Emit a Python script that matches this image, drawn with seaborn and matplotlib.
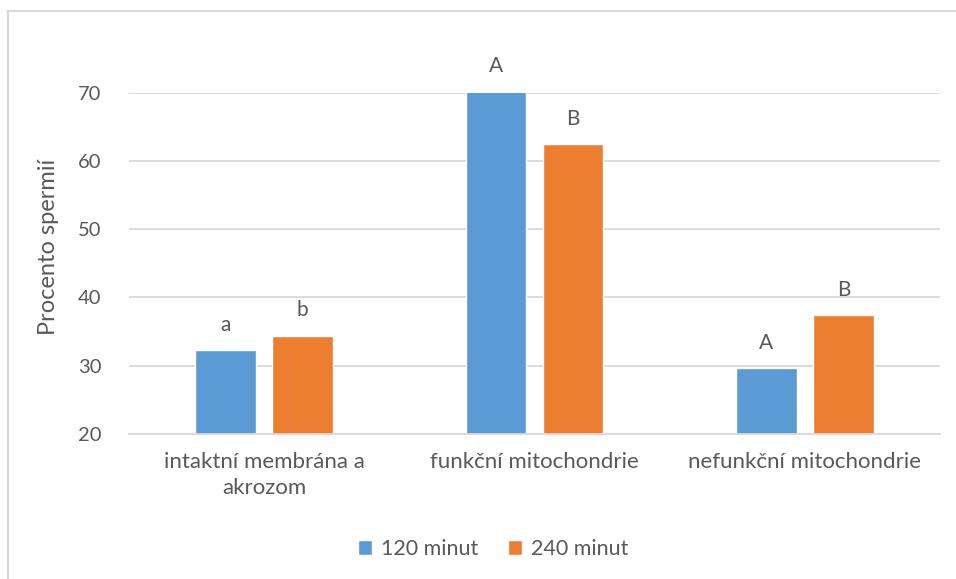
import matplotlib
matplotlib.use("Agg")
import matplotlib.pyplot as plt
import seaborn as sns
import pandas as pd
from matplotlib.patches import Rectangle

categories = ["intaktní membrána a\nakrozom", "funkční mitochondrie", "nefunkční mitochondrie"]
series_names = ["120 minut", "240 minut"]
values_120 = [32.3, 70.2, 29.6]
values_240 = [34.4, 62.5, 37.4]
letters_120 = ["a", "A", "A"]
letters_240 = ["b", "B", "B"]
yticks = [20, 30, 40, 50, 60, 70]

df = pd.DataFrame({
    "kategorie": categories * 2,
    "serie": [series_names[0]] * 3 + [series_names[1]] * 3,
    "hodnota": values_120 + values_240,
    "pismeno": letters_120 + letters_240,
})

sns.set_theme(style="white")
plt.rcParams["font.family"] = ["Lato", "DejaVu Sans"]
txt = "#595959"
grid = "#D9D9D9"
fs = 14.5

fig = plt.figure(figsize=(9.56, 5.79), dpi=100)
ax = fig.add_axes([129 / 956, 1 - 434 / 579, (940 - 129) / 956, (434 - 92.6) / 579])

sns.barplot(data=df, x="kategorie", y="hodnota", hue="serie",
            palette=["#5B9BD5", "#ED7D31"], width=0.57, gap=0.21,
            saturation=1, ax=ax, legend=True)

ax.set_ylim(20, 70)
ax.set_xlim(-0.5, 2.5)
ax.set_yticks(yticks)
ax.yaxis.grid(True, color=grid, linewidth=1.3)
ax.set_axisbelow(True)
for s in ["top", "right", "left"]:
    ax.spines[s].set_visible(False)
ax.spines["bottom"].set_color(grid)
ax.spines["bottom"].set_linewidth(1.3)
ax.tick_params(axis="both", length=0, colors=txt, labelsize=fs)
ax.tick_params(axis="x", labelsize=16, pad=13)
ax.tick_params(axis="y", pad=20)
for lab in ax.get_xticklabels():
    lab.set_linespacing(1.4)
ax.set_xlabel("")
ax.set_ylabel("Procento spermií", color=txt, fontsize=17)
ax.yaxis.set_label_coords((59 - 129) / 811, (434 - 247) / 341.4)

# letter labels above bars
for cont, lets in zip(ax.containers, [letters_120, letters_240]):
    for bar, l in zip(cont, lets):
        ax.annotate(l, (bar.get_x() + bar.get_width() / 2, bar.get_height()),
                    xytext=(0, 11), textcoords="offset points",
                    ha="center", va="bottom", fontsize=15, color=txt,
                    annotation_clip=False)

leg = ax.legend(loc="center", bbox_to_anchor=(493 / 956, 1 - 549 / 579),
                bbox_transform=fig.transFigure, ncol=2, frameon=False,
                fontsize=15.5, handlelength=0.65, handleheight=0.65,
                handletextpad=0.4, columnspacing=1.4)
for t in leg.get_texts():
    t.set_color(txt)

# chart frame
fig.patches.append(Rectangle((8 / 956, -0.1), 1.2, 1 - 11 / 579 + 0.1,
                             transform=fig.transFigure, fill=False,
                             edgecolor=grid, linewidth=1.5))

fig.savefig("out.png", dpi=100)
